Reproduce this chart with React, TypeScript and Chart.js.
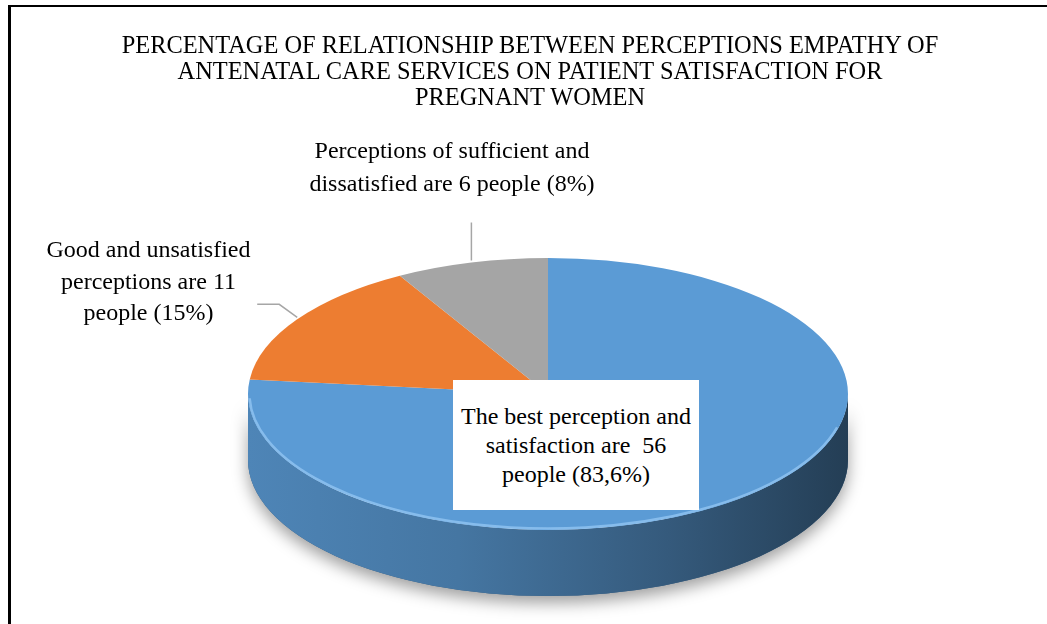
import React, { useEffect, useRef } from 'react';
import { Chart, registerables } from 'chart.js';

Chart.register(...registerables);

// ---------- data ----------
const categories = [
  'The best perception and satisfaction',
  'Good and unsatisfied perceptions',
  'Perceptions of sufficient and dissatisfied',
];
const peopleCounts = [56, 11, 6];
const percentLabels = ['83,6%', '15%', '8%'];
const sliceColors = ['#5B9BD5', '#ED7D31', '#A5A5A5'];
const titleLines = [
  'PERCENTAGE OF RELATIONSHIP BETWEEN PERCEPTIONS EMPATHY OF',
  'ANTENATAL CARE SERVICES ON PATIENT SATISFACTION FOR',
  'PREGNANT WOMEN',
];

// ---------- layout / style ----------
const W = 1047;
const H = 624;
const CX = 548;
const CY = 394;
const RX = 300;
const RY = 136;
const DEPTH = 66;
const FONT = "'Liberation Serif', 'Times New Roman', serif";

function shade(hex: string, f: number): string {
  const h = hex.replace('#', '');
  const r = Math.round(parseInt(h.slice(0, 2), 16) * f);
  const g = Math.round(parseInt(h.slice(2, 4), 16) * f);
  const b = Math.round(parseInt(h.slice(4, 6), 16) * f);
  return `rgb(${r},${g},${b})`;
}

const pie3dPlugin = {
  id: 'pie3d',
  beforeDatasetsDraw(chart: any, _args: any, opts: any) {
    const arcs = chart.getDatasetMeta(0).data as any[];
    chart.$pie3dActive = false;
    if (!arcs.length) return;
    const ctx: CanvasRenderingContext2D = chart.ctx;
    const cx = arcs[0].x;
    const cy = arcs[0].y;
    const ry = arcs[0].outerRadius;
    const rx = opts.rx;
    const d = opts.depth;

    // shadow under the side wall
    ctx.save();
    ctx.shadowColor = 'rgba(0,0,0,0.38)';
    ctx.shadowBlur = 16;
    ctx.shadowOffsetY = 7;
    ctx.beginPath();
    ctx.ellipse(cx, cy, rx, ry, 0, 0, Math.PI, false);
    ctx.lineTo(cx - rx, cy + d);
    ctx.ellipse(cx, cy + d, rx, ry, 0, Math.PI, 0, true);
    ctx.closePath();
    ctx.fillStyle = shade(sliceColors[0], 0.6);
    ctx.fill();
    ctx.restore();

    // side walls of each slice (front half only)
    arcs.forEach((arc: any) => {
      const v0 = Math.max(arc.startAngle, 0);
      const v1 = Math.min(arc.endAngle, Math.PI);
      if (v1 <= v0) return;
      const base = arc.options.backgroundColor as string;
      const g = ctx.createLinearGradient(cx - rx, 0, cx + rx, 0);
      g.addColorStop(0, shade(base, 0.86));
      g.addColorStop(0.35, shade(base, 0.76));
      g.addColorStop(0.7, shade(base, 0.58));
      g.addColorStop(1, shade(base, 0.4));
      ctx.beginPath();
      ctx.ellipse(cx, cy, rx, ry, 0, v0, v1, false);
      ctx.lineTo(cx + rx * Math.cos(v1), cy + d + ry * Math.sin(v1));
      ctx.ellipse(cx, cy + d, rx, ry, 0, v1, v0, true);
      ctx.closePath();
      ctx.fillStyle = g;
      ctx.fill();
    });

    // stretch the round pie into the tilted top face
    ctx.save();
    ctx.translate(cx, 0);
    ctx.scale(rx / ry, 1);
    ctx.translate(-cx, 0);
    chart.$pie3dActive = true;
  },
  afterDatasetsDraw(chart: any, _args: any, opts: any) {
    if (!chart.$pie3dActive) return;
    const ctx: CanvasRenderingContext2D = chart.ctx;
    ctx.restore();
    chart.$pie3dActive = false;
    const arcs = chart.getDatasetMeta(0).data as any[];
    const cx = arcs[0].x;
    const cy = arcs[0].y;
    const ry = arcs[0].outerRadius;
    const rx = opts.rx;

    // bevel highlight on the front rim
    ctx.save();
    ctx.beginPath();
    ctx.ellipse(cx, cy, rx - 1.5, ry - 1.5, 0, 0.08 * Math.PI, 0.99 * Math.PI, false);
    ctx.strokeStyle = 'rgba(170,215,255,0.55)';
    ctx.lineWidth = 2.5;
    ctx.stroke();
    ctx.restore();

    // leader lines
    ctx.save();
    ctx.strokeStyle = '#A6A6A6';
    ctx.lineWidth = 1.5;
    (opts.leaders as any[]).forEach((ld) => {
      const arc = arcs[ld.index];
      const m = (arc.startAngle + arc.endAngle) / 2;
      const sx = cx + rx * Math.cos(m);
      const sy = cy + ry * Math.sin(m);
      const ex = sx + ld.dx;
      const ey = sy + ld.dy;
      ctx.beginPath();
      ctx.moveTo(sx, sy - 2);
      ctx.lineTo(ex, ey);
      if (ld.tail) ctx.lineTo(ex - ld.tail, ey);
      ctx.stroke();
    });
    ctx.restore();
  },
};

export default function App() {
  const canvasRef = useRef<HTMLCanvasElement | null>(null);

  useEffect(() => {
    const canvas = canvasRef.current;
    if (!canvas) return;
    const chart = new Chart(canvas, {
      type: 'pie',
      data: {
        labels: categories,
        datasets: [
          {
            data: peopleCounts,
            backgroundColor: sliceColors,
            borderWidth: 0,
            hoverBorderWidth: 0,
            hoverOffset: 0,
            offset: 0,
          } as any,
        ],
      },
      options: {
        animation: false,
        responsive: false,
        devicePixelRatio: 1,
        events: [],
        layout: {
          padding: {
            left: CX - RY,
            right: W - (CX + RY),
            top: CY - RY,
            bottom: H - (CY + RY),
          },
        },
        plugins: {
          legend: { display: false },
          tooltip: { enabled: false },
          title: { display: false },
          pie3d: {
            rx: RX,
            depth: DEPTH,
            leaders: [
              { index: 1, dx: -18, dy: -15, tail: 22 },
              { index: 2, dx: 0, dy: -40, tail: 0 },
            ],
          },
        } as any,
      },
      plugins: [pie3dPlugin as any],
    });
    return () => chart.destroy();
  }, []);

  const textBase: React.CSSProperties = {
    position: 'absolute',
    fontFamily: FONT,
    color: '#000',
    textAlign: 'center',
    whiteSpace: 'pre',
  };

  return (
    <div
      style={{
        position: 'absolute',
        left: 0,
        top: 0,
        width: W,
        height: H,
        background: '#fff',
        overflow: 'hidden',
      }}
    >
      <div
        style={{
          position: 'absolute',
          left: 8,
          top: 5,
          width: W - 8,
          height: H - 5,
          borderLeft: '3px solid #000',
          borderTop: '2px solid #000',
          boxSizing: 'border-box',
        }}
      />
      <canvas
        ref={canvasRef}
        width={W}
        height={H}
        style={{ position: 'absolute', left: 0, top: 0 }}
      />
      <div style={{ ...textBase, left: 30, top: 32, width: 1000, fontSize: 24.4, lineHeight: '26px' }}>
        {titleLines.map((t, i) => (
          <div key={i}>{t}</div>
        ))}
      </div>
      <div style={{ ...textBase, left: 252, top: 134, width: 400, fontSize: 24, lineHeight: '33px' }}>
        <div>Perceptions of sufficient and</div>
        <div>{`dissatisfied are ${peopleCounts[2]} people (${percentLabels[2]})`}</div>
      </div>
      <div style={{ ...textBase, left: 0, top: 234, width: 297, fontSize: 24, lineHeight: '31.5px' }}>
        <div>Good and unsatisfied</div>
        <div>{`perceptions are ${peopleCounts[1]}`}</div>
        <div>{`people (${percentLabels[1]})`}</div>
      </div>
      <div
        style={{
          ...textBase,
          left: 453,
          top: 380,
          width: 246,
          height: 130,
          background: '#fff',
          fontSize: 24,
          lineHeight: '29px',
          display: 'flex',
          flexDirection: 'column',
          justifyContent: 'center',
        }}
      >
        <div>The best perception and</div>
        <div>{`satisfaction are  ${peopleCounts[0]}`}</div>
        <div>{`people (${percentLabels[0]})`}</div>
      </div>
    </div>
  );
}
